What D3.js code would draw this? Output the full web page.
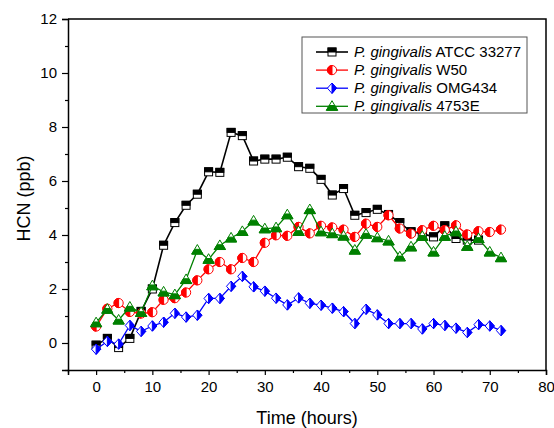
<!DOCTYPE html>
<html lang="en">
<head>
    <meta charset="UTF-8">
    <title>HCN over time</title>
    <script src="https://d3js.org/d3.v7.min.js"></script>
    <style>
        body {
            margin: 0;
            background-color: #ffffff;
            font-family: 'Liberation Sans', Arial, sans-serif;
        }
        .tick-label {
            font-size: 15px;
            fill: #000;
        }
        .axis-title {
            font-size: 18px;
            fill: #000;
        }
        .legend-text {
            font-size: 15px;
            fill: #000;
        }
    </style>
</head>
<body>
    <svg id="chart"></svg>

    <script>
        // sampling times (hours)
        const hours = d3.range(0, 73, 2);

        // HCN (ppb) per strain
        const atcc33277 = [-0.08, 0.17, -0.17, 0.17, 1.17, 2.0, 3.62, 4.46, 5.1, 5.51,
            6.34, 6.32, 7.8, 7.68, 6.74, 6.81, 6.81, 6.88, 6.53, 6.47,
            6.06, 5.48, 5.72, 4.73, 4.83, 4.95, 4.76, 4.46, 4.12, 4.05,
            3.93, 4.34, 3.87, 3.81, 3.81];
        const w50 = [0.61, 1.27, 1.48, 1.15, 1.09, 1.14, 1.6, 1.66, 1.87, 2.32,
            2.73, 3.0, 2.73, 3.15, 3.0, 3.71, 3.99, 3.97, 4.3, 4.06,
            4.34, 4.28, 4.2, 3.93, 4.42, 4.3, 4.73, 4.24, 4.05, 4.18,
            4.34, 4.18, 4.36, 4.02, 4.14, 4.11, 4.2];
        const omg434 = [-0.23, 0.06, -0.04, 0.65, 0.43, 0.63, 0.77, 1.1, 0.96, 1.03,
            1.65, 1.65, 2.1, 2.47, 2.08, 1.92, 1.66, 1.41, 1.67, 1.47,
            1.4, 1.29, 1.16, 0.72, 1.25, 1.04, 0.72, 0.72, 0.72, 0.52,
            0.72, 0.65, 0.55, 0.39, 0.68, 0.63, 0.46];
        const e4753 = [0.75, 1.25, 0.85, 1.33, 1.13, 2.12, 1.89, 1.79, 2.35, 3.44,
            3.1, 3.61, 3.89, 4.13, 4.52, 4.23, 4.27, 4.75, 4.13, 4.94,
            4.12, 4.05, 3.96, 3.44, 4.03, 3.9, 3.78, 3.19, 3.56, 3.95,
            3.37, 3.95, 4.12, 3.58, 3.87, 3.37, 3.16];

        const seriesNames = ["ATCC 33277", "W50", "OMG434", "4753E"];
        const seriesColors = ["#000000", "#ff0000", "#0000ff", "#008000"];
        const seriesValues = [atcc33277, w50, omg434, e4753];
        const seriesMarkers = ["square", "circle", "diamond", "triangle"];

        const xTicks = d3.range(0, 81, 10);
        const yTicks = d3.range(0, 13, 2);

        const W = 554, H = 428;
        const margin = {top: 19, right: 8, bottom: 58, left: 68};
        const width = W - margin.left - margin.right;
        const height = H - margin.top - margin.bottom;

        const root = d3.select("#chart")
            .attr("width", W)
            .attr("height", H);

        const svg = root.append("g")
            .attr("transform", `translate(${margin.left},${margin.top})`);

        const x = d3.scaleLinear().domain([-5, 80]).range([0, width]);
        const y = d3.scaleLinear().domain([-1, 12]).range([height, 0]);

        // frame (top / right)
        svg.append("path")
            .attr("d", `M0,0H${width}V${height}`)
            .attr("fill", "none")
            .attr("stroke", "#000")
            .attr("stroke-width", 1.5);

        // x axis, major + minor ticks
        svg.append("g")
            .attr("transform", `translate(0,${height})`)
            .call(d3.axisBottom(x).tickValues(xTicks).tickSize(5).tickPadding(6));
        svg.append("g")
            .attr("transform", `translate(0,${height})`)
            .call(d3.axisBottom(x).tickValues(d3.range(-5, 81, 10)).tickSize(3).tickFormat(""))
            .select(".domain").remove();

        // y axis, major + minor ticks
        svg.append("g")
            .call(d3.axisLeft(y).tickValues(yTicks).tickSize(6).tickPadding(5));
        svg.append("g")
            .call(d3.axisLeft(y).tickValues(d3.range(-1, 12, 2)).tickSize(3).tickFormat(""))
            .select(".domain").remove();

        svg.selectAll(".domain").attr("stroke", "#000").attr("stroke-width", 1.5);
        svg.selectAll(".tick line").attr("stroke", "#000").attr("stroke-width", 1.2);
        svg.selectAll(".tick text")
            .attr("class", "tick-label")
            .style("font-family", "'Liberation Sans', Arial, sans-serif")
            .style("font-size", "15px");

        // markers with half fill
        function drawMarker(g, type, color) {
            g.attr("stroke", color).attr("stroke-width", 1);
            if (type === "square") {
                const s = 4;
                g.append("rect").attr("x", -s).attr("y", -s).attr("width", 2 * s).attr("height", 2 * s)
                    .attr("fill", "#fff");
                g.append("rect").attr("x", -s).attr("y", -s).attr("width", 2 * s).attr("height", s)
                    .attr("fill", color);
            } else if (type === "circle") {
                const r = 4.6;
                g.append("circle").attr("r", r).attr("fill", "#fff");
                g.append("path").attr("d", `M0,${-r}A${r},${r} 0 0 0 0,${r}Z`).attr("fill", color);
            } else if (type === "diamond") {
                const w = 4.6, h = 5.2;
                g.append("path").attr("d", `M0,${-h}L${w},0L0,${h}L${-w},0Z`).attr("fill", "#fff");
                g.append("path").attr("d", `M0,${-h}L${w},0L0,${h}Z`).attr("fill", color);
            } else {
                const a = 5.6, top = -5.6, bot = 4, mid = (top + bot) / 2;
                const hw = a * (mid - top) / (bot - top);
                g.append("path").attr("d", `M0,${top}L${a},${bot}L${-a},${bot}Z`).attr("fill", "#fff");
                g.append("path").attr("d", `M${-hw},${mid}L${hw},${mid}L${a},${bot}L${-a},${bot}Z`)
                    .attr("fill", color);
            }
        }

        const line = d3.line()
            .x(d => x(d.t))
            .y(d => y(d.v));

        seriesValues.forEach((vals, i) => {
            const data = vals.map((v, k) => ({t: hours[k], v: v}));
            const g = svg.append("g");
            g.append("path")
                .datum(data)
                .attr("fill", "none")
                .attr("stroke", seriesColors[i])
                .attr("stroke-width", i === 0 ? 1.6 : 1.3)
                .attr("d", line);
            g.selectAll(".mk")
                .data(data)
                .enter().append("g")
                .attr("class", "mk")
                .attr("transform", d => `translate(${x(d.t)},${y(d.v)})`)
                .each(function() { drawMarker(d3.select(this), seriesMarkers[i], seriesColors[i]); });
        });

        // axis titles
        root.append("text")
            .attr("class", "axis-title")
            .attr("x", margin.left + width / 2)
            .attr("y", 424)
            .attr("text-anchor", "middle")
            .text("Time (hours)");

        root.append("text")
            .attr("class", "axis-title")
            .attr("transform", `translate(30,${margin.top + height / 2 + 4}) rotate(-90)`)
            .attr("text-anchor", "middle")
            .text("HCN (ppb)");

        // legend
        const legend = root.append("g").attr("transform", "translate(302,37)");
        legend.append("rect")
            .attr("width", 225)
            .attr("height", 76)
            .attr("fill", "#fff")
            .attr("stroke", "#555")
            .attr("stroke-width", 1);

        seriesNames.forEach((name, i) => {
            const row = legend.append("g").attr("transform", `translate(0,${15 + i * 18.1})`);
            row.append("line")
                .attr("x1", 14).attr("x2", 46)
                .attr("stroke", seriesColors[i])
                .attr("stroke-width", i === 0 ? 1.6 : 1.3);
            drawMarker(row.append("g").attr("transform", "translate(30,0)"), seriesMarkers[i], seriesColors[i]);
            const txt = row.append("text")
                .attr("class", "legend-text")
                .attr("x", 52)
                .attr("y", 5);
            txt.append("tspan").style("font-style", "italic").text("P. gingivalis");
            txt.append("tspan").text(" " + name);
        });
    </script>
</body>
</html>
